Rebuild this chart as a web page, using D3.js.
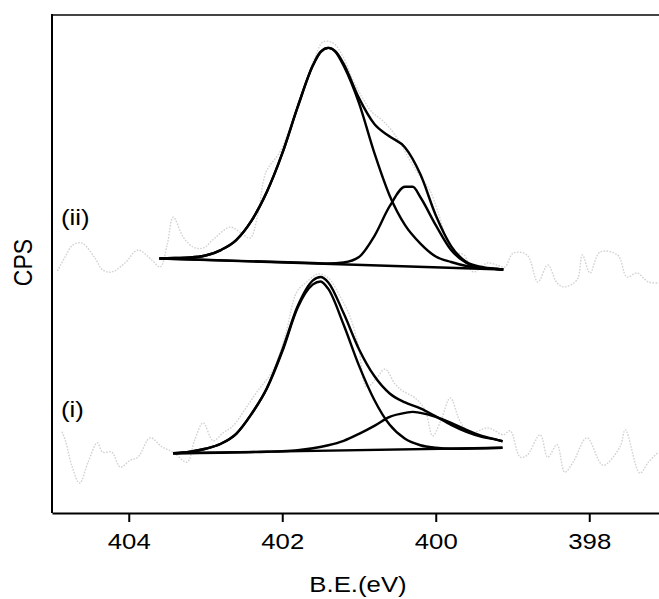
<!DOCTYPE html>
<html>
<head>
<meta charset="utf-8">
<script src="https://cdn.jsdelivr.net/npm/d3@7"></script>
<style>
  html, body { margin: 0; padding: 0; background: #fff; }
  svg { display: block; }
</style>
</head>
<body>
<svg id="chart" width="659" height="599"></svg>
<script>
// ---- Data (binding energy eV, CPS arbitrary units) ----
const xTicks = [404, 402, 400, 398];
const xLabel = "B.E.(eV)";
const yLabel = "CPS";
const seriesLabels = ["(ii)", "(i)"];

// Spectrum (ii)
const rawII = [[404.93,48.6],[404.83,51.4],[404.73,53.8],[404.61,54.2],[404.44,51.2],[404.34,48.8],[404.22,48.4],[404.05,50.2],[403.88,52.8],[403.70,50.8],[403.59,49.4],[403.50,53.8],[403.42,59.4],[403.29,55.4],[403.16,53.4],[403.03,53.2],[402.88,55.2],[402.68,57.4],[402.55,56.4],[402.42,55.2],[402.32,59.8],[402.21,68.5],[402.03,72.5],[401.90,77.3],[401.81,81.3],[401.66,88.0],[401.56,92.0],[401.47,94.6],[401.34,94.4],[401.22,92.0],[401.09,87.3],[400.96,83.5],[400.83,80.5],[400.70,78.9],[400.60,77.3],[400.47,74.5],[400.34,70.9],[400.21,67.7],[400.08,64.9],[399.97,60.4],[399.85,54.8],[399.74,52.4],[399.63,51.8],[399.51,48.4],[399.33,50.2],[399.20,49.8],[399.10,49.4],[398.99,52.2],[398.81,51.8],[398.67,46.4],[398.54,49.8],[398.42,46.2],[398.33,45.4],[398.16,46.8],[398.09,51.8],[397.99,48.2],[397.86,52.4],[397.63,51.8],[397.51,47.4],[397.38,48.2],[397.23,46.4],[397.09,46.2]];
const envelopeII = [[403.6,51.1],[403.4,51.2],[403.2,51.3],[403.0,51.7],[402.8,52.8],[402.6,54.8],[402.4,58.7],[402.2,64.5],[402.0,72.2],[401.8,81.5],[401.6,89.9],[401.5,92.6],[401.4,93.4],[401.3,92.6],[401.2,90.2],[401.0,83.3],[400.8,78.1],[400.6,75.6],[400.4,73.4],[400.2,68.0],[400.0,59.8],[399.8,53.6],[399.6,50.4],[399.4,49.4],[399.2,49.0],[399.12,48.9]];
const mainII = [[403.6,51.1],[403.4,51.2],[403.2,51.3],[403.0,51.7],[402.8,52.8],[402.6,54.8],[402.4,58.7],[402.2,64.5],[402.0,72.2],[401.8,81.5],[401.6,89.9],[401.5,92.6],[401.4,93.4],[401.3,92.5],[401.2,89.8],[401.0,82.3],[400.8,72.3],[400.6,63.7],[400.4,57.8],[400.2,54.1],[400.0,51.5],[399.8,50.4],[399.6,49.6],[399.4,49.2],[399.2,49.0],[399.12,48.9]];
const secondII = [[403.6,51.1],[401.6,50.2],[401.4,50.1],[401.2,50.3],[401.0,51.4],[400.8,55.6],[400.6,61.6],[400.4,65.5],[400.3,65.5],[400.2,63.4],[400.0,57.8],[399.8,52.8],[399.6,50.2],[399.4,49.2],[399.2,49.0],[399.12,48.9]];
const baselineII = [[403.6,51.1],[399.12,48.9]];

// Spectrum (i)
const rawI = [[404.87,16.3],[404.82,14.3],[404.74,9.4],[404.64,6.0],[404.53,10.2],[404.41,14.1],[404.34,12.2],[404.22,12.2],[404.11,9.2],[403.98,10.6],[403.88,11.2],[403.72,15.1],[403.57,13.3],[403.42,12.2],[403.24,10.2],[403.14,14.7],[403.03,18.1],[402.90,14.5],[402.77,16.1],[402.64,17.5],[402.49,20.7],[402.33,24.3],[402.12,28.7],[401.96,35.7],[401.81,44.4],[401.68,46.4],[401.53,48.0],[401.40,47.2],[401.25,43.6],[401.12,39.6],[401.01,33.7],[400.90,25.3],[400.77,27.1],[400.66,28.9],[400.53,25.9],[400.43,24.5],[400.27,23.1],[400.14,20.7],[400.04,15.5],[399.93,18.7],[399.81,23.1],[399.68,18.3],[399.55,16.1],[399.33,17.1],[399.25,16.7],[399.12,15.7],[399.03,16.5],[398.90,11.2],[398.81,11.6],[398.64,15.7],[398.54,11.2],[398.42,13.7],[398.32,8.2],[398.21,10.2],[398.03,15.1],[397.82,9.6],[397.60,13.3],[397.53,16.7],[397.34,8.0],[397.23,10.2],[397.10,12.2]];
const envelopeI = [[403.42,12.0],[403.2,12.3],[403.0,12.9],[402.8,13.9],[402.6,15.9],[402.4,19.9],[402.2,25.1],[402.0,32.7],[401.8,41.5],[401.6,46.7],[401.5,47.4],[401.4,46.3],[401.2,40.1],[401.0,32.9],[400.8,27.5],[400.6,24.0],[400.4,22.2],[400.2,21.0],[400.0,19.4],[399.8,17.7],[399.6,16.3],[399.4,15.3],[399.2,14.7],[399.13,14.4]];
const mainI = [[403.42,12.0],[403.2,12.3],[403.0,12.9],[402.8,13.9],[402.6,15.9],[402.4,19.9],[402.2,25.0],[402.0,32.4],[401.8,41.2],[401.6,45.9],[401.5,46.5],[401.4,45.0],[401.2,37.8],[401.0,29.6],[400.8,22.7],[400.6,17.7],[400.4,14.9],[400.2,13.6],[400.0,13.1],[399.8,12.9],[399.13,13.1]];
const secondI = [[403.42,12.0],[402.2,12.3],[402.0,12.4],[401.8,12.6],[401.6,13.0],[401.4,13.6],[401.2,14.5],[401.0,15.9],[400.8,17.5],[400.6,19.3],[400.4,20.1],[400.3,20.3],[400.2,20.1],[400.0,19.3],[399.8,18.1],[399.6,16.7],[399.4,15.5],[399.2,14.7],[399.13,14.4]];
const baselineI = [[403.42,12.0],[399.13,13.1]];

(function () {
  // ---- Layout ----
  const W = 659;
  const mLeft = 52, mTop = 15, mBottom = 513;
  const FONT = "'Liberation Sans', Arial, Helvetica, sans-serif";
  const STRETCH = 1.12;

  const svg = d3.select("#chart");
  const x = d3.scaleLinear().domain([405, 397]).range([mLeft, 666]);
  const y = d3.scaleLinear().domain([0, 100]).range([mBottom, mTop]);

  const line = d3.line().x(d => x(d[0])).y(d => y(d[1])).curve(d3.curveMonotoneX);
  const rawLine = d3.line().x(d => x(d[0])).y(d => y(d[1])).curve(d3.curveCatmullRom.alpha(0.5));

  // raw data (light dotted)
  [rawII, rawI].forEach(r => {
    svg.append("path").datum(r).attr("d", rawLine)
      .attr("fill", "none").attr("stroke", "#d2d2d2")
      .attr("stroke-width", 1.4).attr("stroke-dasharray", "1.6,1.4");
  });

  // fitted curves
  [baselineII, secondII, mainII, envelopeII, baselineI, secondI, mainI, envelopeI].forEach(s => {
    svg.append("path").datum(s).attr("d", line)
      .attr("fill", "none").attr("stroke", "#000")
      .attr("stroke-width", 2.4).attr("stroke-linejoin", "round").attr("stroke-linecap", "butt");
  });

  // frame: top and left
  svg.append("line").attr("x1", mLeft).attr("x2", W).attr("y1", mTop).attr("y2", mTop)
    .attr("stroke", "#444").attr("stroke-width", 2);
  svg.append("line").attr("x1", mLeft).attr("x2", mLeft).attr("y1", mTop - 1).attr("y2", mBottom)
    .attr("stroke", "#000").attr("stroke-width", 2);

  // bottom axis
  const ax = svg.append("g").attr("transform", `translate(0,${mBottom})`)
    .call(d3.axisBottom(x).tickValues(xTicks).tickFormat(d3.format("d")).tickSize(9).tickSizeOuter(0));
  ax.select(".domain").attr("stroke", "#000").attr("stroke-width", 2);
  ax.selectAll(".tick line").attr("stroke", "#000").attr("stroke-width", 2);
  ax.selectAll(".tick text")
    .attr("y", 20).attr("fill", "#000")
    .style("font-family", FONT).style("font-size", "23px")
    .attr("transform", `scale(${STRETCH},1)`);

  // axis titles
  svg.append("text").text(xLabel)
    .attr("transform", `translate(358,592) scale(${STRETCH},1)`)
    .attr("text-anchor", "middle").style("font-family", FONT).style("font-size", "23px").attr("fill", "#000");
  svg.append("text").text(yLabel)
    .attr("transform", `translate(31.5,262.5) scale(${STRETCH},1) rotate(-90)`)
    .attr("text-anchor", "middle").style("font-family", FONT).style("font-size", "23px").attr("fill", "#000");

  // series labels
  const labelPos = [[405, 225], [405, 417]];
  seriesLabels.forEach((t, i) => {
    svg.append("text").text(t)
      .attr("transform", `translate(${x(labelPos[i][0]) + 9},${labelPos[i][1]}) scale(${STRETCH},1)`)
      .style("font-family", FONT).style("font-size", "23px").attr("fill", "#000");
  });
})();
</script>
</body>
</html>
